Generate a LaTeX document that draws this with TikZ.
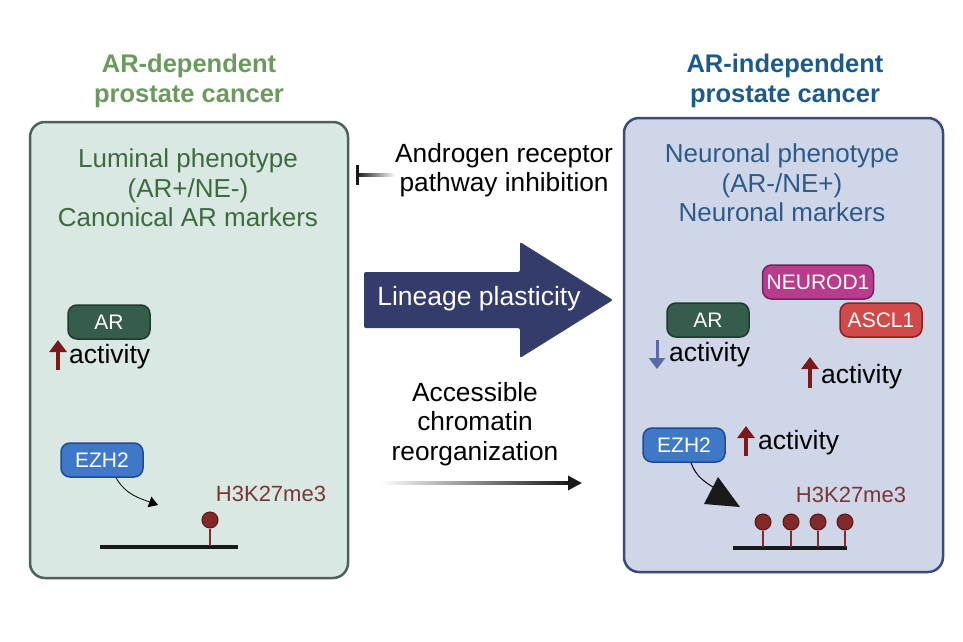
\documentclass[tikz,border=0pt]{standalone}
\usepackage{fontspec}
\setmainfont{Liberation Sans}
\usepackage{xcolor}
\usetikzlibrary{arrows.meta, positioning, calc}

\definecolor{titleg}{HTML}{6A9A5C}
\definecolor{titleb}{HTML}{1D5A8C}
\definecolor{leftfill}{HTML}{D9E8E3}
\definecolor{leftline}{HTML}{4F5F5A}
\definecolor{lefttext}{HTML}{3D6B3D}
\definecolor{rightfill}{HTML}{CFD6E8}
\definecolor{rightline}{HTML}{3B4A76}
\definecolor{righttext}{HTML}{2D5A8C}
\definecolor{arfill}{HTML}{365C4B}
\definecolor{arline}{HTML}{1E3A2C}
\definecolor{ezhfill}{HTML}{3F78C6}
\definecolor{ezhline}{HTML}{1F4A9A}
\definecolor{neufill}{HTML}{B83C8C}
\definecolor{neuline}{HTML}{7A2060}
\definecolor{ascfill}{HTML}{D04A4A}
\definecolor{ascline}{HTML}{8A2222}
\definecolor{methyl}{HTML}{822A2A}
\definecolor{methline}{HTML}{5A1515}
\definecolor{histtext}{HTML}{7A3535}
\definecolor{upred}{HTML}{7A1A1A}
\definecolor{downblue}{HTML}{5A6AA8}
\definecolor{bigarrow}{HTML}{343C6B}

\begin{document}
\begin{tikzpicture}[x=1pt, y=-1pt,
  title/.style={font=\fontsize{25.5}{30}\selectfont\bfseries, align=center},
  pheno/.style={font=\fontsize{26}{29.5}\selectfont, align=center},
  pill/.style={draw, line width=1.5pt, rounded corners=9pt, text=white,
               font=\fontsize{21}{22}\selectfont, minimum width=82pt, minimum height=34pt},
  lbl/.style={font=\fontsize{26.3}{29.5}\selectfont, align=center},
  act/.style={font=\fontsize{26.5}{28}\selectfont, inner sep=0pt, anchor=west},
  up/.style={upred, line width=3.5pt, -{Triangle[length=12pt, width=17pt]}},
  down/.style={downblue, line width=3pt, -{Triangle[length=11pt, width=16pt]}},
  lolli/.style={circle, draw=methline, fill=methyl, line width=1pt, minimum size=16pt, inner sep=0pt},
]
  \useasboundingbox (0,0) rectangle (963,642);

  % left panel
  \node[title, text=titleg] (ltitle) at (189,81) {AR-dependent\\prostate cancer};
  \draw[leftline, fill=leftfill, line width=2.5pt, rounded corners=15pt]
    (30,122) rectangle (348,578);
  \node[pheno, text=lefttext] (lpheno) at (188,188) {Luminal phenotype\\(AR+/NE-)\\Canonical AR markers};

  \node[pill, fill=arfill, draw=arline] (lar) at (109,322) {AR};
  \node[act] (lact) at (69,357) {activity};
  \draw[up] (58,370) -- (58,340);

  \node[pill, fill=ezhfill, draw=ezhline] (lezh) at (102,460) {EZH2};
  \coordinate (lhit) at (158,505);
  \draw[-{Triangle[length=9pt, width=11pt]}, line width=0.8pt] (lezh.south) ++(14,0) to[out=-60, in=160] (lhit);
  \node[font=\fontsize{22}{24}\selectfont, text=histtext] (lhist) at (271,494) {H3K27me3};
  \coordinate (lchl) at (100,547);
  \coordinate (lchr) at (238,547);
  \draw[line width=3.5pt, black!90] (lchl) -- (lchr);
  \node[lolli] (lm1) at (210,520) {};
  \draw[methyl, line width=1.5pt] (lm1.south) -- (210,546);

  % middle
  \node[lbl, anchor=west, inner sep=0pt] (inhib) at (395,170) {Androgen receptor\\pathway inhibition};
  \coordinate (bar) at (357,175);
  \shade[left color=black!90, right color=white] (357,173.5) rectangle (395,176.5);
  \draw[black!90, line width=3pt] (357,165) -- (357,185);

  \fill[bigarrow, rounded corners=2pt] (364,272) -- (520,272) -- (520,242) -- (613,300)
    -- (520,358) -- (520,328) -- (364,328) -- cycle;
  \node[font=\fontsize{26.5}{28}\selectfont, text=white] (lineage) at (479,299) {Lineage plasticity};

  \node[lbl] (chrom) at (475,424) {Accessible\\chromatin\\reorganization};
  \coordinate (cfrom) at (380,483);
  \coordinate (cto) at (582,483);
  \shade[left color=white, right color=black!90] (380,481.5) rectangle (568,484.5);
  \draw[black!90, line width=3pt, -{Triangle[length=14pt, width=14pt]}] (566,483) -- (cto);

  % right panel
  \node[title, text=titleb] (rtitle) at (785,81) {AR-independent\\prostate cancer};
  \draw[rightline, fill=rightfill, line width=2.5pt, rounded corners=15pt]
    (624,118) rectangle (943,572);
  \node[pheno, text=righttext] (rpheno) at (782,183) {Neuronal phenotype\\(AR-/NE+)\\Neuronal markers};

  \node[pill, fill=neufill, draw=neuline, minimum width=111pt] (neurod) at (818,282) {NEUROD1};
  \node[pill, fill=ascfill, draw=ascline] (ascl) at (881,320) {ASCL1};
  \node[pill, fill=arfill, draw=arline] (rar) at (708,320) {AR};
  \node[act] (ract) at (669,355) {activity};
  \draw[down] (657,340) -- (657,369);
  \node[act] (nact) at (821,377) {activity};
  \draw[up] (810,388) -- (810,357);

  \node[pill, fill=ezhfill, draw=ezhline] (rezh) at (684,445) {EZH2};
  \node[act] (eact) at (758,443) {activity};
  \draw[up] (746,456) -- (746,426);
  \coordinate (rhit) at (740,506);
  \draw[line width=1pt] (rezh.south) ++(7,0) to[out=-70, in=150] (718,490);
  \fill[black!90] (704,504) -- (740,507) -- (718,477) -- cycle;
  \node[font=\fontsize{22}{24}\selectfont, text=histtext] (rhist) at (851,495) {H3K27me3};
  \coordinate (rchl) at (733,548);
  \coordinate (rchr) at (847,548);
  \draw[line width=3.5pt, black!90] (rchl) -- (rchr);
  \foreach \i/\x in {1/763, 2/791, 3/818, 4/845} {
    \node[lolli] (rm\i) at (\x,522) {};
    \draw[methyl, line width=1.5pt] (rm\i.south) -- (\x,547);
  }
\end{tikzpicture}
\end{document}
